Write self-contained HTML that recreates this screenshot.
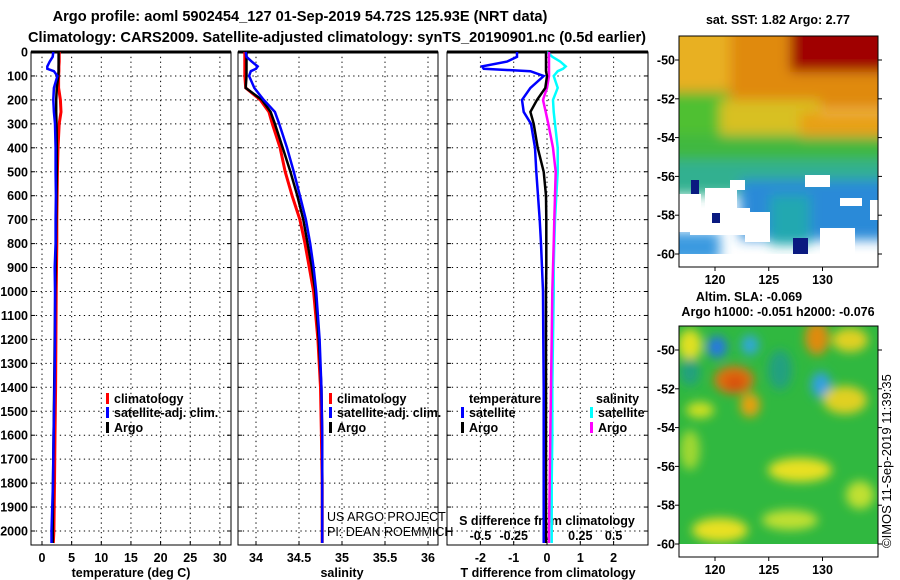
<!DOCTYPE html>
<html><head><meta charset="utf-8">
<style>
html,body{margin:0;padding:0;background:#fff;}
svg{display:block;font-family:"Liberation Sans",sans-serif;}
.b{font-weight:bold;font-size:12.5px;}
.t{font-weight:bold;font-size:14.6px;}
</style></head>
<body>
<svg id="c" width="900" height="580" viewBox="0 0 900 580">
<defs>
<filter id="bl" filterUnits="userSpaceOnUse" x="600" y="250" width="320" height="330"><feGaussianBlur stdDeviation="5"/></filter>
<filter id="bl2" filterUnits="userSpaceOnUse" x="600" y="0" width="320" height="300"><feGaussianBlur stdDeviation="6"/></filter>
<clipPath id="m1"><rect x="679" y="36" width="199" height="218"/></clipPath>
<clipPath id="m2"><rect x="679" y="326" width="199" height="218"/></clipPath>
</defs>
<text class="t" x="300" y="21" text-anchor="middle">Argo profile: aoml 5902454_127 01-Sep-2019 54.72S 125.93E (NRT data)</text>
<text class="t" x="337" y="42" text-anchor="middle">Climatology: CARS2009. Satellite-adjusted climatology: synTS_20190901.nc (0.5d earlier)</text>
<g id="g"></g>

<!-- top map -->
<g>
<text class="b" x="778" y="24" text-anchor="middle">sat. SST: 1.82 Argo: 2.77</text>
<g clip-path="url(#m1)">
<rect x="679" y="36" width="199" height="218" fill="#fff"/>
<g filter="url(#bl2)">
<rect x="660" y="20" width="240" height="90" fill="#e08a10"/>
<rect x="660" y="20" width="70" height="70" fill="#e8b020"/>
<rect x="790" y="20" width="100" height="52" fill="#a00000"/>
<rect x="660" y="92" width="70" height="60" fill="#50c030"/>
<rect x="720" y="100" width="100" height="35" fill="#d8c020"/>
<rect x="660" y="135" width="240" height="30" fill="#40b840"/>
<rect x="800" y="112" width="90" height="25" fill="#e8a018"/>
<rect x="660" y="160" width="240" height="35" fill="#30b090"/>
<rect x="740" y="180" width="150" height="60" fill="#2a8ad8"/>
<rect x="660" y="232" width="60" height="30" fill="#3a9ae0"/>
<rect x="770" y="195" width="40" height="50" fill="#20a8b0"/>
</g>
<rect x="679" y="194" width="22" height="38" fill="#fff"/>
<rect x="705" y="188" width="32" height="42" fill="#fff"/>
<rect x="690" y="208" width="60" height="27" fill="#fff"/>
<rect x="745" y="212" width="25" height="30" fill="#fff"/>
<rect x="730" y="180" width="15" height="10" fill="#fff"/>
<rect x="805" y="175" width="25" height="12" fill="#fff"/>
<rect x="840" y="198" width="22" height="8" fill="#fff"/>
<rect x="820" y="228" width="35" height="26" fill="#fff"/>
<rect x="870" y="200" width="8" height="20" fill="#fff"/>
<rect x="712" y="213" width="8" height="10" fill="#0a1a80"/>
<rect x="691" y="180" width="8" height="14" fill="#0a1a80"/>
<rect x="793" y="238" width="15" height="16" fill="#0a1a80"/>
</g>
<rect x="679" y="36" width="199" height="231" fill="none" stroke="#000"/>
</g>

<!-- bottom map -->
<g>
<text class="b" x="749" y="301" text-anchor="middle">Altim. SLA: -0.069</text>
<text class="b" x="778" y="316" text-anchor="middle">Argo h1000: -0.051 h2000: -0.076</text>
<g clip-path="url(#m2)">
<rect x="679" y="326" width="199" height="218" fill="#30b840"/>
<g filter="url(#bl)">
<ellipse cx="690" cy="345" rx="12" ry="16" fill="#e0e020"/>
<ellipse cx="717" cy="347" rx="10" ry="11" fill="#2878e0"/>
<ellipse cx="750" cy="345" rx="9" ry="10" fill="#30a8d8"/>
<ellipse cx="734" cy="380" rx="20" ry="14" fill="#e07010"/>
<ellipse cx="735" cy="383" rx="10" ry="8" fill="#d85010"/>
<ellipse cx="817" cy="338" rx="12" ry="17" fill="#e08a10"/>
<ellipse cx="850" cy="340" rx="18" ry="12" fill="#e0d020"/>
<ellipse cx="821" cy="385" rx="10" ry="13" fill="#30a0e0"/>
<ellipse cx="750" cy="405" rx="10" ry="12" fill="#e8a010"/>
<ellipse cx="845" cy="400" rx="22" ry="14" fill="#e0d020"/>
<ellipse cx="700" cy="410" rx="14" ry="8" fill="#d0e020"/>
<ellipse cx="800" cy="470" rx="32" ry="12" fill="#e8e020"/>
<ellipse cx="690" cy="450" rx="10" ry="20" fill="#a0d830"/>
<ellipse cx="720" cy="530" rx="28" ry="12" fill="#e8e020"/>
<ellipse cx="790" cy="520" rx="28" ry="10" fill="#c0e030"/>
<ellipse cx="860" cy="495" rx="14" ry="14" fill="#c0e030"/>
<ellipse cx="690" cy="372" rx="10" ry="14" fill="#20a080"/>
<ellipse cx="780" cy="370" rx="12" ry="20" fill="#20a080"/>
</g>
</g>
<rect x="679" y="544" width="199" height="13" fill="#fff"/>
<rect x="679" y="326" width="199" height="231" fill="none" stroke="#000"/>
</g>
<text x="0" y="0" font-size="13" transform="translate(891,548) rotate(-90)">©IMOS 11-Sep-2019 11:39:35</text>
</svg>
<script>
// ---- data (depth in dbar) ----
const depths   = [0,20,40,60,70,80,100,150,200,250,300,400,500,600,700,800,900,1000,1200,1400,1600,1800,2000,2050];
const tempArgo = [2.8,2.8,2.8,2.8,2.8,2.8,2.75,2.5,2.4,2.4,2.45,2.5,2.5,2.45,2.4,2.35,2.3,2.25,2.15,2.05,1.95,1.85,1.8,1.8];
const tempClim = [2.9,2.9,2.9,2.85,2.85,2.85,2.8,2.8,3.1,3.2,2.9,2.7,2.6,2.55,2.5,2.5,2.45,2.4,2.35,2.3,2.2,2.1,2.0,1.9];
const tempSat  = [1.9,1.8,1.3,0.9,0.9,2.0,2.6,2.0,1.9,2.0,2.2,2.3,2.3,2.35,2.3,2.3,2.15,2.2,2.2,2.1,1.95,1.85,1.6,1.6];
const salArgo  = [33.89,33.89,33.89,33.89,33.89,33.89,33.89,33.88,34.07,34.17,34.22,34.31,34.40,34.48,34.55,34.60,34.65,34.69,34.73,34.76,34.77,34.77,34.77,34.77];
const salClim  = [33.87,33.87,33.87,33.87,33.87,33.87,33.87,33.88,34.05,34.15,34.19,34.28,34.34,34.42,34.51,34.57,34.62,34.67,34.72,34.75,34.76,34.77,34.77,34.77];
const salSat   = [33.88,33.89,33.95,34.02,34.0,33.94,33.92,33.98,34.09,34.22,34.27,34.36,34.44,34.51,34.58,34.63,34.67,34.70,34.74,34.76,34.77,34.77,34.77,34.77];
const dTSat    = [-0.9,-0.9,-1.2,-1.95,-1.9,-0.5,-0.1,-0.5,-0.75,-0.7,-0.48,-0.36,-0.32,-0.27,-0.22,-0.18,-0.15,-0.12,-0.11,-0.1,-0.1,-0.1,-0.1,-0.1];
const dTArgo   = [-0.03,-0.03,-0.03,-0.03,-0.03,-0.03,0.0,-0.05,-0.3,-0.5,-0.4,-0.28,-0.1,-0.03,-0.02,-0.02,-0.02,-0.03,-0.03,-0.03,-0.03,-0.03,-0.03,-0.03];
const dSSat    = [0.0,0.04,0.1,0.14,0.12,0.08,0.05,0.08,0.045,0.05,0.06,0.08,0.08,0.07,0.06,0.055,0.05,0.05,0.045,0.04,0.04,0.035,0.035,0.035];
const dSArgo   = [0.015,0.015,0.015,0.015,0.015,0.015,0.015,0.0,-0.03,-0.01,0.01,0.045,0.065,0.06,0.055,0.05,0.045,0.04,0.035,0.03,0.025,0.02,0.015,0.015];
const depthTicks = [0,100,200,300,400,500,600,700,800,900,1000,1100,1200,1300,1400,1500,1600,1700,1800,1900,2000];
const tempTicks = [0,5,10,15,20,25,30];
const salTicks = [34,34.5,35,35.5,36];
const dTTicks = [-2,-1,0,1,2];
const dSTickLabels = ["-0.5","-0.25","0","0.25","0.5"];
const latTicks = [-50,-52,-54,-56,-58,-60];
const lonTicks = [120,125,130];

const NS="http://www.w3.org/2000/svg";
const svg=document.getElementById('g');
function el(tag,attrs,parent){const e=document.createElementNS(NS,tag);for(const k in attrs)e.setAttribute(k,attrs[k]);(parent||svg).appendChild(e);return e;}
const yD=d=>52+d*0.2395;
const TOP=52,BOT=545;
const panels=[
 {x0:31,x1:231,f:v=>42+5.93*v,ticks:tempTicks,lab:tempTicks.map(String),title:"temperature (deg C)",tx:131,name:"temperature-panel"},
 {x0:238,x1:438,f:v=>256+86*(v-34),ticks:salTicks,lab:salTicks.map(String),title:"salinity",tx:342,name:"salinity-panel"},
 {x0:447,x1:648,f:v=>547+33.3*v,ticks:dTTicks,lab:dTTicks.map(String),title:"T difference from climatology",tx:548,name:"difference-panel"}
];
panels.forEach((p,pi)=>{
  const g=el('g',{});
  
  
  depthTicks.forEach(d=>{
    const y=yD(d);
    const l=el('line',{x1:p.x0,x2:p.x1,y1:y,y2:y,stroke:'#000','stroke-dasharray':'1.3,3.5','stroke-width':1},g);
    
    
    el('line',{x1:p.x0,x2:p.x0+4,y1:y,y2:y,stroke:'#000'},g);
    el('line',{x1:p.x1-4,x2:p.x1,y1:y,y2:y,stroke:'#000'},g);
    if(pi==0){const t=el('text',{x:28,y:y+4.5,'text-anchor':'end',class:'b'},g);t.textContent=d;
      
      }
  });
  p.ticks.forEach((v,i)=>{
    const x=p.f(v);
    el('line',{x1:x,x2:x,y1:TOP,y2:BOT,stroke:'#000','stroke-dasharray':'1.3,3.5'},g);
    el('line',{x1:x,x2:x,y1:BOT-4,y2:BOT,stroke:'#000'},g);
    const t=el('text',{x:x,y:562,'text-anchor':'middle',class:'b'},g);t.textContent=p.lab[i];
    
    
  });
  const fr=el('rect',{x:p.x0,y:TOP,width:p.x1-p.x0,height:BOT-TOP,fill:'none',stroke:'#000','stroke-width':1},g);
  
  
  el('line',{x1:p.x0,x2:p.x1,y1:TOP,y2:TOP,stroke:'#000','stroke-width':3},g);
  const tt=el('text',{x:p.tx,y:577,'text-anchor':'middle',class:'b'},g);tt.textContent=p.title;
  
  
});
dTTicks.forEach((v,i)=>{
  const t=el('text',{x:panels[2].f(v),y:540,'text-anchor':'middle',class:'b'});t.textContent=dSTickLabels[i];
  
  
});
{const t=el('text',{x:547,y:525,'text-anchor':'middle',class:'b'});t.textContent="S difference from climatology";
 
 }

function line(f,vals,color,w,name){
  const pts=vals.map((v,i)=>f(v).toFixed(1)+','+yD(depths[i]).toFixed(1)).join(' ');
  const pl=el('polyline',{points:pts,fill:'none',stroke:color,'stroke-width':w});
  
  
}
const fS=v=>547+133.3*v;
line(panels[0].f,tempClim,'#f00',3,'temp-climatology-line');
line(panels[0].f,tempArgo,'#000',2.5,'temp-argo-line');
line(panels[0].f,tempSat,'#00f',2.5,'temp-satellite-line');
line(panels[1].f,salClim,'#f00',3,'sal-climatology-line');
line(panels[1].f,salArgo,'#000',2.5,'sal-argo-line');
line(panels[1].f,salSat,'#00f',2.5,'sal-satellite-line');
line(fS,dSSat,'#0ff',2.5,'dsal-satellite-line');
line(fS,dSArgo,'#f0f',2.5,'dsal-argo-line');
line(panels[2].f,dTArgo,'#000',2.5,'dtemp-argo-line');
line(panels[2].f,dTSat,'#00f',2.5,'dtemp-satellite-line');

function leg(x,y,color,txt,name){
  const g=el('g',{});
  
  
  el('rect',{x:x,y:y-10,width:3,height:11,fill:color},g);
  const t=el('text',{x:x+8,y:y,class:'b'},g);t.textContent=txt;
}
leg(106,403,'#f00','climatology','legend-climatology');
leg(106,417,'#00f','satellite-adj. clim.','legend-satellite');
leg(106,432,'#000','Argo','legend-argo');
leg(329,403,'#f00','climatology','legend-climatology-sal');
leg(329,417,'#00f','satellite-adj. clim.','legend-satellite-sal');
leg(329,432,'#000','Argo','legend-argo-sal');
{const t=el('text',{x:469,y:403,class:'b'});t.textContent='temperature';
 }
{const t=el('text',{x:596,y:403,class:'b'});t.textContent='salinity';
 }
leg(461,417,'#00f','satellite','legend-t-satellite');
leg(461,432,'#000','Argo','legend-t-argo');
leg(590,417,'#0ff','satellite','legend-s-satellite');
leg(590,432,'#f0f','Argo','legend-s-argo');
[["US ARGO PROJECT",521],["PI: DEAN ROEMMICH",536]].forEach(a=>{
  const t=el('text',{x:327,y:a[1],'font-size':'12.5',fill:'#000'});t.textContent=a[0];
  
});
function mapAxes(y50,y60,bot){
  latTicks.forEach(v=>{
    const y=y50+(y60-y50)*(-50-v)/10;
    el('line',{x1:878,x2:882,y1:y,y2:y,stroke:'#000'});
    el('line',{x1:675,x2:679,y1:y,y2:y,stroke:'#000'});
    const t=el('text',{x:675,y:y+4.5,'text-anchor':'end',class:'b'});t.textContent=v;
    
  });
  lonTicks.forEach(v=>{
    const x=715+(v-120)*10.75;
    el('line',{x1:x,x2:x,y1:bot,y2:bot+4,stroke:'#000'});
    const t=el('text',{x:x,y:bot+17,'text-anchor':'middle',class:'b'});t.textContent=v;
    
  });
}
mapAxes(60,254,267);
mapAxes(350,544,557);
</script>
</body></html>
